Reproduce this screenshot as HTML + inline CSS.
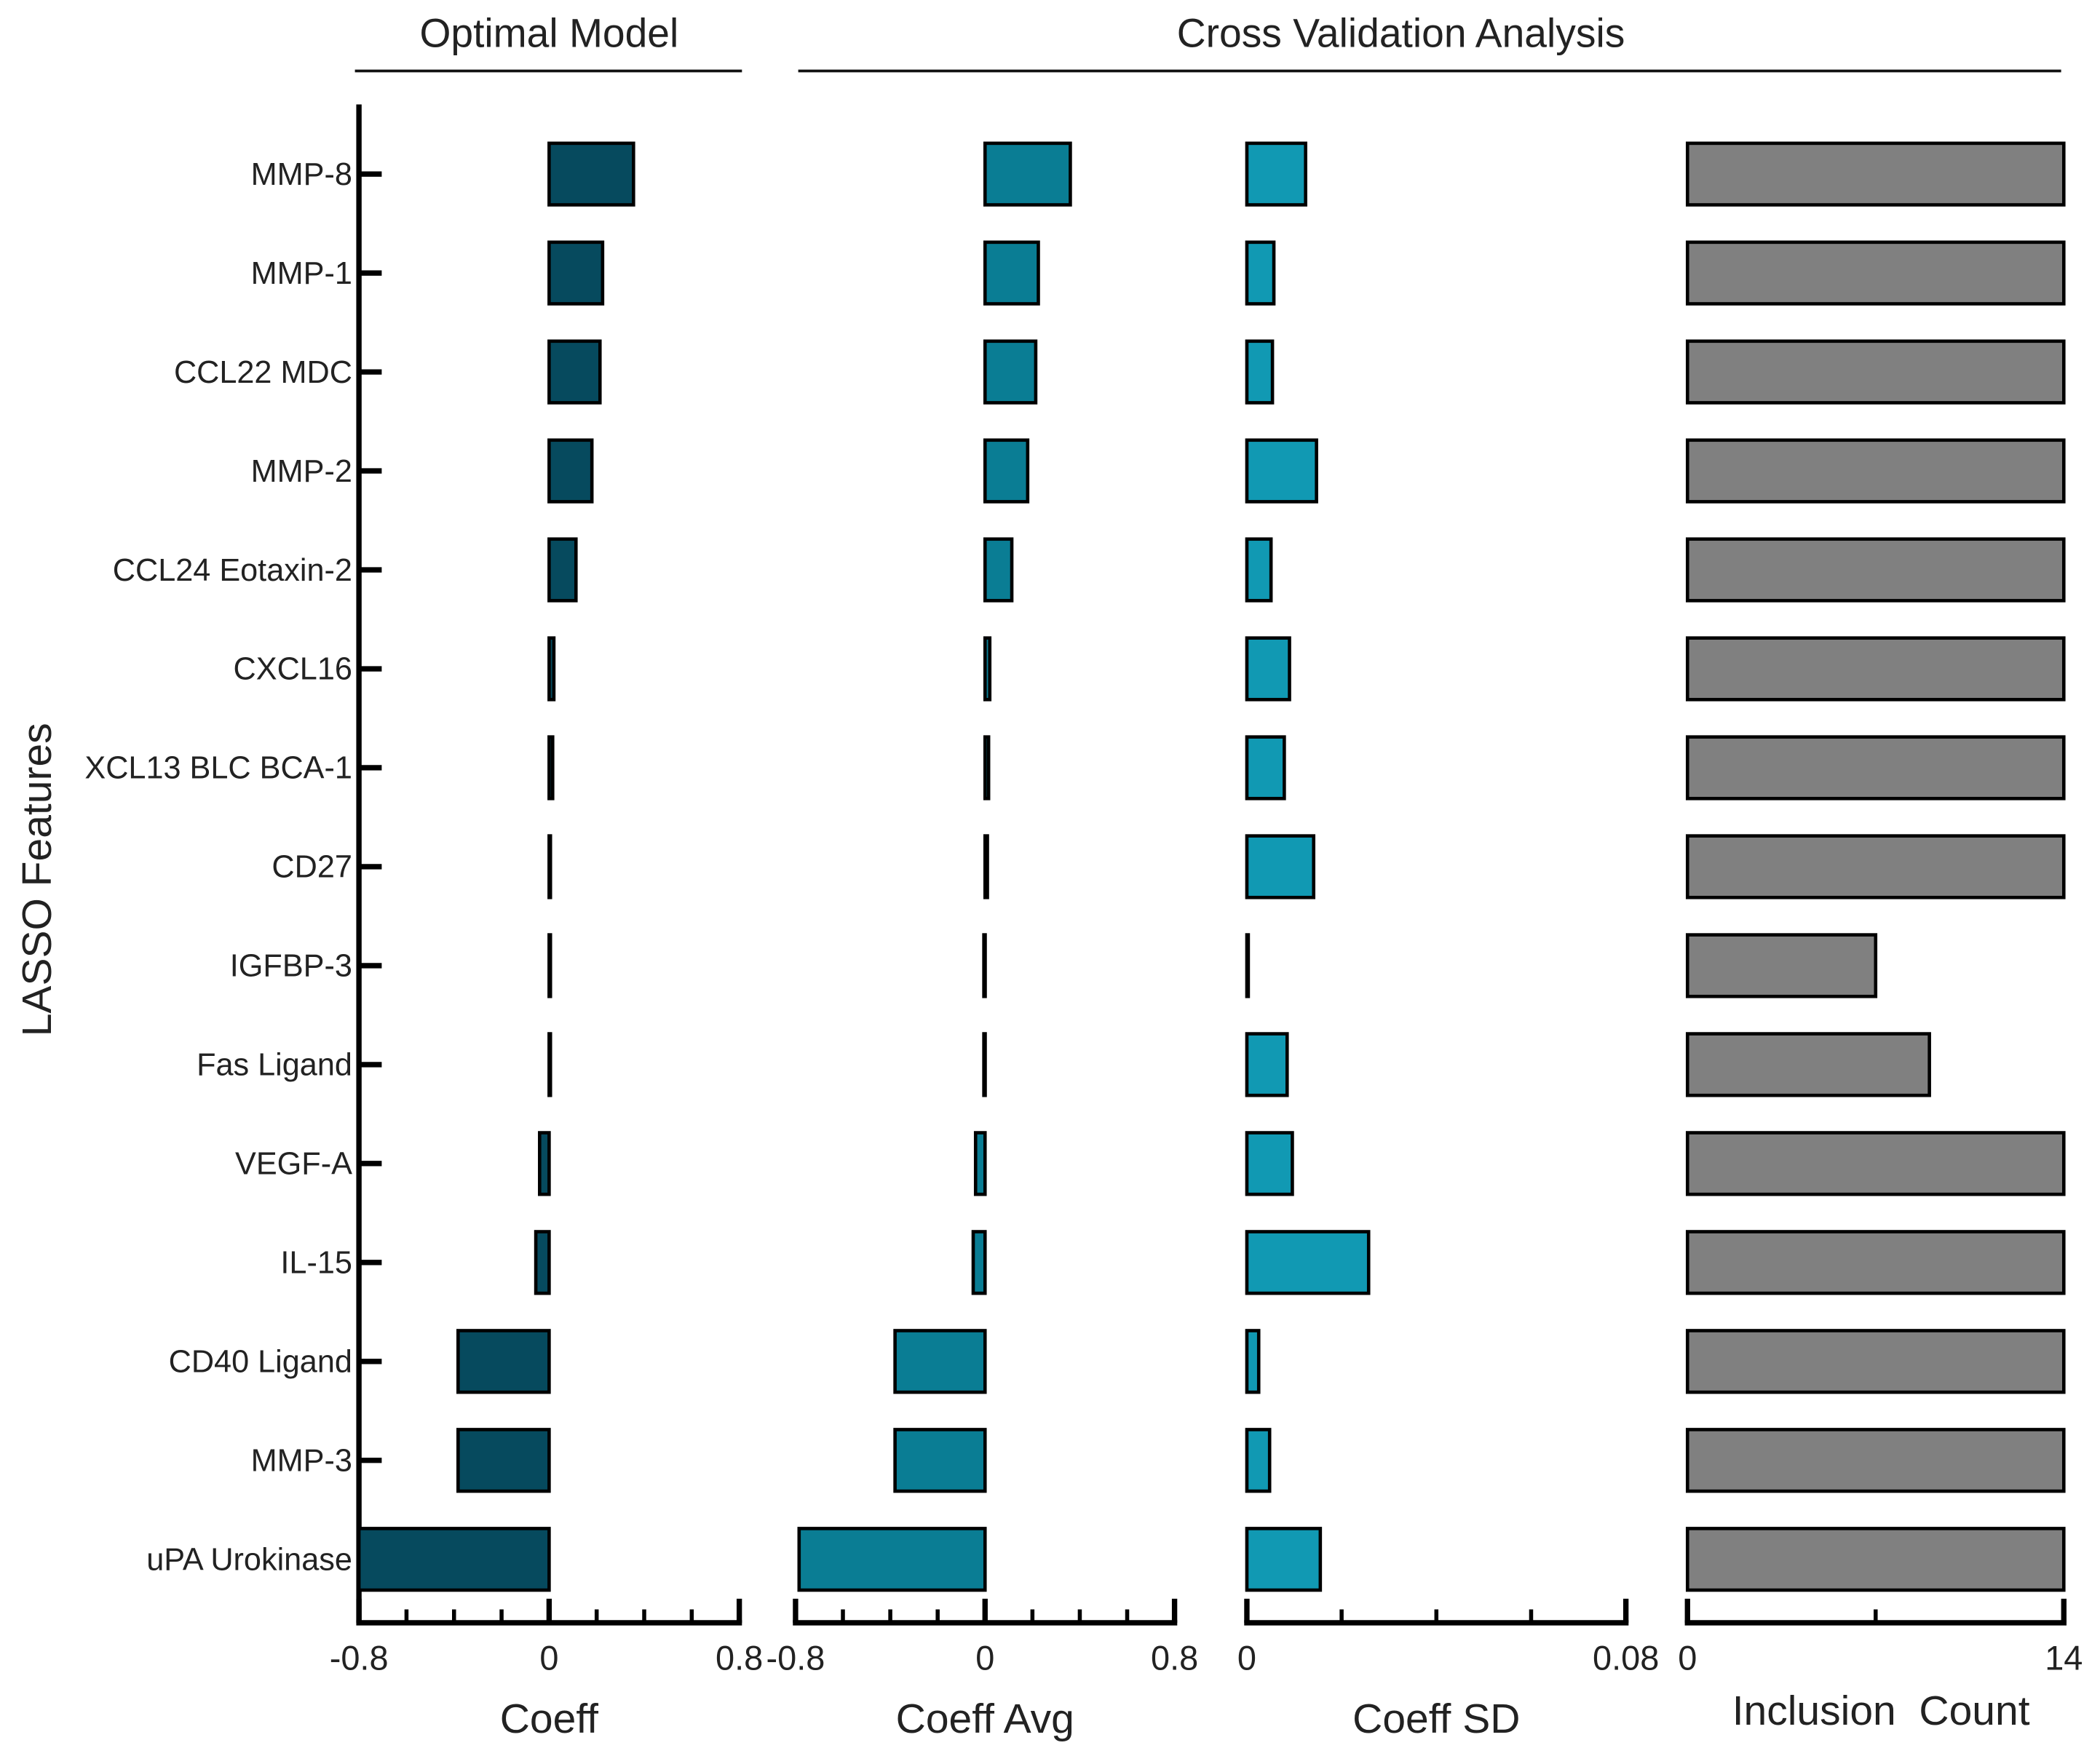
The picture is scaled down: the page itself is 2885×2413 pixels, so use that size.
<!DOCTYPE html>
<html><head><meta charset="utf-8"><style>
html,body{margin:0;padding:0;background:#fff}
svg{display:block}
text{font-family:"Liberation Sans",Arial,sans-serif;fill:#222}
</style></head><body>
<svg id="chart" width="2885" height="2413" viewBox="0 0 1568 1311.5" xmlns="http://www.w3.org/2000/svg">
<text x="410" y="35" font-size="30" text-anchor="middle">Optimal Model</text>
<line x1="265" y1="53" x2="554" y2="53" stroke="#111" stroke-width="2"/>
<text x="1046" y="35" font-size="30" text-anchor="middle">Cross Validation Analysis</text>
<line x1="596" y1="53" x2="1539" y2="53" stroke="#111" stroke-width="2"/>
<text transform="translate(38,657) rotate(-90)" font-size="31" text-anchor="middle">LASSO Features</text>
<g id="g"></g>
</svg>
<script>
const categories = ["MMP-8","MMP-1","CCL22 MDC","MMP-2","CCL24 Eotaxin-2","CXCL16","XCL13 BLC BCA-1","CD27","IGFBP-3","Fas Ligand","VEGF-A","IL-15","CD40 Ligand","MMP-3","uPA Urokinase"];
const coeff = [0.355,0.225,0.214,0.18,0.113,0.02,0.015,0.005,0.002,0.002,-0.04,-0.056,-0.383,-0.383,-0.8];
const coeffAvg = [0.36,0.225,0.214,0.18,0.113,0.02,0.015,0.01,-0.005,-0.005,-0.04,-0.05,-0.38,-0.38,-0.785];
const coeffSD = [0.0124,0.0057,0.0054,0.0147,0.0051,0.009,0.0079,0.0141,0.0003,0.0085,0.0096,0.0257,0.0025,0.0048,0.0155];
const inclusion = [14,14,14,14,14,14,14,14,7,9,14,14,14,14,14];
const coeffTicks = ["-0.8","0","0.8"];
const sdTicks = ["0","0.08"];
const countTicks = ["0","14"];

const NS="http://www.w3.org/2000/svg";
const g=document.getElementById('g');
function mk(tag,attrs,parent){const e=document.createElementNS(NS,tag);for(const k in attrs)e.setAttribute(k,attrs[k]);(parent||g).appendChild(e);return e;}
const rowY=i=>130+i*73.9;
const barH=46, axisY=1212;

const panels=[
 {name:"coeff",vals:coeff,min:-0.8,max:0.8,x0:268,x1:552,color:"#064a5e",minor:0.2,title:"Coeff",ticks:coeffTicks,titleY:1294},
 {name:"coeff-avg",vals:coeffAvg,min:-0.8,max:0.8,x0:594,x1:877,color:"#0a7d94",minor:0.2,title:"Coeff Avg",ticks:coeffTicks,titleY:1294},
 {name:"coeff-sd",vals:coeffSD,min:0,max:0.08,x0:931,x1:1214,color:"#1199b3",minor:0.02,title:"Coeff SD",ticks:sdTicks,titleY:1294},
 {name:"inclusion-count",vals:inclusion,min:0,max:14,x0:1260,x1:1541,color:"#808080",minor:7,title:"Inclusion\u00a0\u00a0Count",ticks:countTicks,titleY:1288}
];

let ax=mk('line',{x1:268,y1:78,x2:268,y2:axisY,stroke:'#000','stroke-width':4});


categories.forEach((c,i)=>{
  const y=rowY(i);
  const t=mk('line',{x1:268,y1:y,x2:285,y2:y,stroke:'#000','stroke-width':4});
  
  
  const l=mk('text',{x:263,y:y+8,'font-size':23.5,'text-anchor':'end'});
  l.textContent=c;
  
  
});

panels.forEach(p=>{
  const sx=v=>p.x0+(v-p.min)/(p.max-p.min)*(p.x1-p.x0);
  const zero=sx(Math.max(p.min,0));
  p.vals.forEach((v,i)=>{
    const a=Math.min(sx(v),zero), b=Math.max(sx(v),zero);
    const r=mk('rect',{x:a,y:rowY(i)-barH/2,width:Math.max(b-a,1),height:barH,fill:p.color,stroke:'#000','stroke-width':2.5});
    
    
  });
  const base=mk('line',{x1:p.x0-2,y1:axisY,x2:p.x1+2,y2:axisY,stroke:'#000','stroke-width':4});
  
  
  const n=Math.round((p.max-p.min)/p.minor);
  for(let k=0;k<=n;k++){
    const v=p.min+k*p.minor, x=sx(v);
    const major=(k===0||k===n||Math.abs(v)<1e-9);
    const tk=mk('line',{x1:x,y1:axisY,x2:x,y2:axisY-(major?18:10),stroke:'#000','stroke-width':major?4:3});
    
    
  }
  p.ticks.forEach(s=>{
    const t=mk('text',{x:sx(parseFloat(s)),y:1247,'font-size':25.5,'text-anchor':'middle'});
    t.textContent=s;
    
    
  });
  const tt=mk('text',{x:(p.x0+p.x1)/2+(p.name==='inclusion-count'?4:0),y:p.titleY,'font-size':31,'text-anchor':'middle'});
  tt.textContent=p.title;
  
  
});
</script>
</body></html>
